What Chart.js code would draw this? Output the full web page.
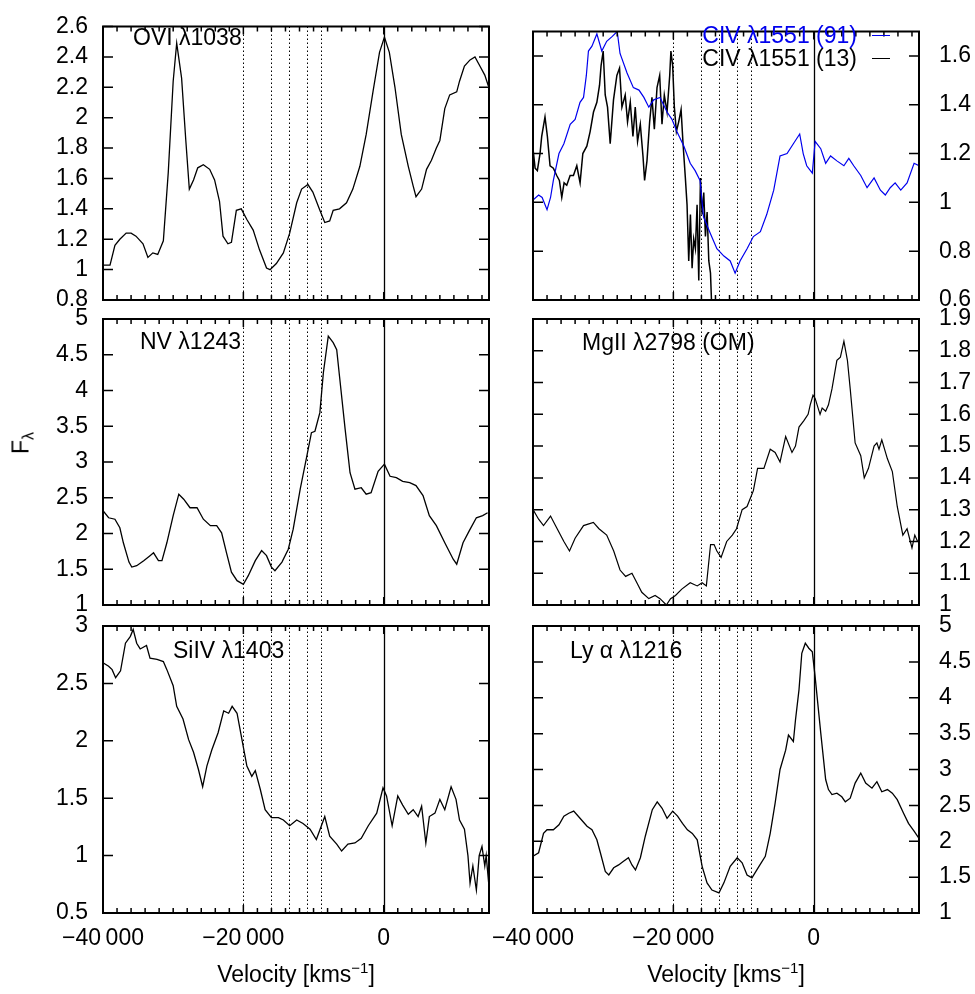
<!DOCTYPE html>
<html>
<head>
<meta charset="utf-8">
<title>Line profiles in velocity space</title>
<script src="https://cdn.jsdelivr.net/npm/chart.js@4/dist/chart.umd.min.js"></script>
<style>
  body { margin: 0; background: #fff; }
  #wrap { position: relative; width: 975px; height: 994px; overflow: hidden;
          font-family: "Liberation Sans", Arial, Helvetica, sans-serif; color: #000; }
  #wrap canvas { position: absolute; left: 0; top: 0; }
  .lbl { position: absolute; font-size: 23px; line-height: 23px; white-space: nowrap; }
  .lbl sub { font-size: 16px; line-height: 0; vertical-align: -5px; }
  .lbl sup { font-size: 15px; line-height: 0; vertical-align: 9px; }
  .key { position: absolute; height: 1.3px; width: 18px; }
</style>
</head>
<body>
<div id="wrap">
  <canvas id="cOVI" width="975" height="994"></canvas>
  <canvas id="cNV" width="975" height="994"></canvas>
  <canvas id="cSiIV" width="975" height="994"></canvas>
  <canvas id="cCIV" width="975" height="994"></canvas>
  <canvas id="cMgII" width="975" height="994"></canvas>
  <canvas id="cLya" width="975" height="994"></canvas>

  <div class="lbl" style="left:133px; top:26px;">OVI λ1038</div>
  <div class="lbl" style="left:140px; top:330px;">NV λ1243</div>
  <div class="lbl" style="left:173px; top:639px;">SiIV λ1403</div>
  <div class="lbl" style="left:582px; top:331px;">MgII λ2798 (OM)</div>
  <div class="lbl" style="left:570px; top:639px;">Ly α λ1216</div>

  <div class="lbl" style="right:118px; top:24px; color:#0000ee;">CIV λ1551 (91)</div>
  <div class="key" style="left:872px; top:35px; background:#0000ee;"></div>
  <div class="lbl" style="right:118px; top:47px;">CIV λ1551 (13)</div>
  <div class="key" style="left:872px; top:58px; background:#000;"></div>

  <div class="lbl" style="left:21px; top:443px; transform:translate(-50%,-50%) rotate(-90deg);">F<sub>λ</sub></div>
  <div class="lbl" style="left:296px; top:963px; transform:translateX(-50%);">Velocity [kms<sup>−1</sup>]</div>
  <div class="lbl" style="left:726px; top:963px; transform:translateX(-50%);">Velocity [kms<sup>−1</sup>]</div>
</div>

<script>
// ---------- velocity axis ----------
const velMin = -40000;
const velMax = 15000;
const velLabels = [-40000, -20000, 0];
const velMinorStep = 2000;
const markerVel = [-20000, -16000, -13500, -11000, -9000];   // dotted
const restVel = 0;                                            // solid

// ---------- y ticks per panel ----------
const oviTicks  = [0.8, 1, 1.2, 1.4, 1.6, 1.8, 2, 2.2, 2.4, 2.6];
const nvTicks   = [1, 1.5, 2, 2.5, 3, 3.5, 4, 4.5, 5];
const siivTicks = [0.5, 1, 1.5, 2, 2.5, 3];
const civTicks  = [0.6, 0.8, 1, 1.2, 1.4, 1.6];
const mgiiTicks = [1, 1.1, 1.2, 1.3, 1.4, 1.5, 1.6, 1.7, 1.8, 1.9];
const lyaTicks  = [1, 1.5, 2, 2.5, 3, 3.5, 4, 4.5, 5];

// ---------- spectra ----------
const oviVel = [
  -40000, -39000, -38300, -37600, -36700, -36000, -35300, -34300, -33600, -32900,
  -32200, -31400, -30700, -30000, -29500, -28800, -28200, -27700, -27100, -26500,
  -25700, -24800, -24100, -23400, -22900, -22200, -21700, -21000, -20300, -19500,
  -18600, -17700, -16700, -16200, -15300, -14300, -13400, -12400, -11700, -10800,
  -10100, -9100, -8400, -7700, -7200, -6300, -5300, -4400, -3400, -2500,
  -1500, -600, 100, 800, 1600, 2500, 3500, 4200, 4600, 5400,
  6100, 6800, 7500, 8000, 8700, 9400, 10400, 10800, 11500, 12300,
  13000, 13700, 14400, 14900
];
const oviFlux = [
  1.03, 1.03, 1.16, 1.20, 1.24, 1.24, 1.22, 1.17, 1.08, 1.11,
  1.10, 1.19, 1.64, 2.24, 2.49, 2.26, 1.85, 1.53, 1.59, 1.67,
  1.69, 1.66, 1.59, 1.45, 1.22, 1.17, 1.18, 1.39, 1.40, 1.33,
  1.26, 1.13, 1.01, 1.00, 1.04, 1.11, 1.24, 1.44, 1.53, 1.56,
  1.51, 1.39, 1.31, 1.32, 1.39, 1.40, 1.44, 1.53, 1.68, 1.89,
  2.18, 2.43, 2.53, 2.43, 2.20, 1.89, 1.68, 1.55, 1.48, 1.53,
  1.66, 1.72, 1.80, 1.85, 2.06, 2.15, 2.17, 2.24, 2.34, 2.38,
  2.40, 2.34, 2.28, 2.21
];

const nvVel = [
  -40000, -39200, -38300, -37600, -37100, -36300, -35900, -35200, -34200, -33300,
  -32800, -32100, -31600, -30900, -30000, -29200, -28500, -27600, -26600, -25700,
  -24700, -23800, -23100, -22400, -21700, -20900, -20000, -19300, -18300, -17400,
  -16700, -16000, -15500, -14500, -13600, -12900, -11900, -11000, -10300, -9800,
  -9100, -8600, -7900, -7200, -6700, -6300, -5500, -4800, -4100, -3200,
  -2500, -1800, -800, 100, 900, 1800, 2700, 3700, 4600, 5600,
  6500, 7500, 8700, 9900, 10400, 11300, 12200, 13200, 14100, 14800
];
const nvFlux = [
  2.32, 2.22, 2.20, 2.08, 1.87, 1.60, 1.53, 1.55, 1.62, 1.69,
  1.73, 1.62, 1.62, 1.87, 2.25, 2.55, 2.48, 2.36, 2.36, 2.20,
  2.11, 2.11, 2.01, 1.73, 1.46, 1.34, 1.29, 1.41, 1.62, 1.76,
  1.69, 1.53, 1.48, 1.60, 1.78, 2.06, 2.62, 3.06, 3.41, 3.43,
  3.69, 4.25, 4.76, 4.67, 4.57, 4.20, 3.46, 2.85, 2.62, 2.64,
  2.55, 2.57, 2.87, 2.97, 2.80, 2.78, 2.73, 2.71, 2.67, 2.53,
  2.25, 2.11, 1.87, 1.64, 1.57, 1.87, 2.04, 2.22, 2.25, 2.29
];

const siivVel = [
  -40000, -39200, -38700, -38200, -37500, -36800, -36100, -35700, -35200, -34700,
  -33800, -33300, -32300, -31400, -30900, -30000, -29500, -28600, -27800, -27100,
  -26400, -25800, -25200, -24500, -23600, -22800, -22100, -21600, -20900, -20200,
  -19500, -18800, -18300, -17600, -16900, -16000, -15000, -14300, -13400, -12400,
  -11500, -10500, -9600, -8400, -7700, -6700, -6000, -5100, -4100, -3200,
  -2200, -1000, -100, 400, 1200, 2000, 2700, 3500, 4200, 4900,
  5400, 6000, 6500, 7300, 8000, 8700, 9600, 10300, 10800, 11500,
  12000, 12300, 12700, 13200, 13600, 14000, 14400, 14600, 15000
];
const siivFlux = [
  2.68, 2.65, 2.62, 2.55, 2.61, 2.85, 2.91, 2.97, 2.85, 2.80,
  2.83, 2.72, 2.71, 2.69, 2.62, 2.48, 2.30, 2.19, 2.01, 1.90,
  1.75, 1.60, 1.78, 1.92, 2.07, 2.26, 2.24, 2.30, 2.24, 2.01,
  1.78, 1.69, 1.74, 1.58, 1.40, 1.33, 1.33, 1.31, 1.26, 1.31,
  1.28, 1.23, 1.14, 1.34, 1.17, 1.10, 1.04, 1.10, 1.11, 1.15,
  1.26, 1.37, 1.59, 1.52, 1.26, 1.52, 1.44, 1.36, 1.40, 1.34,
  1.43, 1.11, 1.34, 1.37, 1.49, 1.40, 1.60, 1.49, 1.31, 1.23,
  1.00, 0.76, 0.91, 0.70, 1.00, 1.08, 0.91, 1.00, 0.73
];

// CIV, epoch 91 (blue)
const civ91Vel = [
  -40000, -39200, -38700, -38000, -37500, -37100, -36300, -35600, -34700, -34000,
  -33300, -32800, -32400, -32100, -31600, -30900, -30200, -29500, -28700, -28000,
  -27600, -26600, -25700, -24900, -24200, -23500, -22800, -21900, -20900, -20200,
  -19500, -18500, -17600, -16900, -16200, -15700, -14700, -13800, -12800, -11900,
  -11200, -10500, -9500, -8600, -7600, -6700, -5700, -4800, -3800, -2900,
  -2000, -1500, -1000, -200, 200, 1000, 1700, 2400, 3300, 4300,
  5000, 5700, 6700, 7600, 8600, 9500, 10200, 10900, 11600, 12400,
  13300, 14300, 15000
];
const civ91Flux = [
  1.01, 1.03, 1.02, 0.97, 1.02, 1.09, 1.20, 1.24, 1.32, 1.34,
  1.41, 1.43, 1.52, 1.62, 1.64, 1.69, 1.62, 1.66, 1.68, 1.70,
  1.61, 1.53, 1.47, 1.46, 1.43, 1.39, 1.42, 1.43, 1.37, 1.34,
  1.29, 1.23, 1.16, 1.13, 1.09, 0.94, 0.87, 0.81, 0.78, 0.76,
  0.71, 0.76, 0.81, 0.86, 0.88, 0.95, 1.05, 1.19, 1.20, 1.24,
  1.28, 1.20, 1.15, 1.12, 1.25, 1.22, 1.16, 1.19, 1.17, 1.15,
  1.18, 1.15, 1.11, 1.06, 1.10, 1.05, 1.03, 1.06, 1.08, 1.05,
  1.08, 1.16, 1.15
];

// CIV, epoch 13 (black)
const civ13Vel = [
  -40000, -39700, -39380, -39000, -38760, -38290, -37950, -37570, -37100, -36620,
  -36240, -35900, -35570, -35190, -34710, -34240, -33760, -33290, -32900, -32330,
  -31860, -31380, -30900, -30520, -30300, -30000, -29710, -29380, -29000, -28530,
  -28050, -27670, -27330, -26860, -26530, -26140, -25760, -25430, -25100, -24710,
  -24330, -24100, -23760, -23380, -23050, -22710, -22330, -21950, -21620, -21290,
  -20900, -20520, -20350, -20100, -19860, -19570, -19240, -18900, -18620, -18290,
  -18050, -17810, -17570, -17330, -17100, -16860, -16620, -16380, -16140, -15900,
  -15670, -15430, -15190, -14950, -14710, -14570, -14450
];
const civ13Flux = [
  1.22, 1.14, 1.13, 1.20, 1.27, 1.35, 1.27, 1.15, 1.14, 1.11,
  1.09, 1.02, 1.08, 1.07, 1.11, 1.11, 1.15, 1.08, 1.20, 1.23,
  1.29, 1.37, 1.41, 1.48, 1.56, 1.62, 1.44, 1.39, 1.24, 1.42,
  1.52, 1.55, 1.39, 1.44, 1.33, 1.41, 1.27, 1.39, 1.25, 1.32,
  1.19, 1.09, 1.17, 1.33, 1.43, 1.30, 1.47, 1.52, 1.32, 1.44,
  1.37, 1.52, 1.62, 1.56, 1.39, 1.29, 1.33, 1.38, 1.24, 1.10,
  0.99, 0.76, 0.95, 0.73, 0.85, 0.81, 0.99, 0.68, 1.10, 0.95,
  1.04, 0.86, 0.96, 0.76, 0.71, 0.60, 0.45
];

const mgiiVel = [
  -40000, -39200, -38500, -37500, -36800, -35600, -34800, -34000, -32800, -31400,
  -30600, -29500, -28500, -27600, -26800, -25900, -25200, -24500, -23500, -22600,
  -21900, -21000, -20400, -19700, -18800, -17600, -16600, -15900, -15300, -14700,
  -14200, -13800, -13200, -12400, -11600, -11000, -10200, -9500, -8600, -8000,
  -7100, -6200, -5500, -4800, -4000, -3100, -2600, -2100, -1400, -800,
  -500, -100, 200, 900, 1200, 1700, 2100, 2600, 3300, 3800,
  4300, 4800, 5200, 5900, 6700, 7200, 7800, 8600, 9000, 9300,
  9700, 10500, 11200, 11900, 12700, 13300, 14000, 14400, 14800
];
const mgiiFlux = [
  1.30, 1.27, 1.25, 1.28, 1.25, 1.20, 1.17, 1.21, 1.25, 1.26,
  1.24, 1.22, 1.17, 1.11, 1.09, 1.10, 1.07, 1.04, 1.02, 1.03,
  1.02, 1.00, 1.02, 1.03, 1.05, 1.07, 1.06, 1.07, 1.06, 1.19,
  1.19, 1.17, 1.15, 1.20, 1.22, 1.24, 1.30, 1.31, 1.36, 1.43,
  1.43, 1.49, 1.48, 1.45, 1.53, 1.48, 1.50, 1.56, 1.58, 1.60,
  1.63, 1.66, 1.65, 1.60, 1.62, 1.61, 1.63, 1.68, 1.77, 1.78,
  1.83, 1.77, 1.68, 1.51, 1.47, 1.40, 1.43, 1.50, 1.51, 1.49,
  1.52, 1.46, 1.42, 1.31, 1.22, 1.24, 1.18, 1.22, 1.20
];

const lyaVel = [
  -40000, -39200, -38500, -38000, -37100, -36300, -35600, -34900, -34200, -33300,
  -32300, -31600, -30900, -30400, -29700, -29200, -28500, -27800, -27100, -26400,
  -25900, -25400, -24700, -24000, -23000, -22300, -21600, -20900, -20100, -19400,
  -18700, -18000, -17300, -16600, -15900, -15200, -14500, -13500, -12800, -11900,
  -10900, -10200, -9500, -8800, -7800, -6900, -6200, -5500, -4800, -4000,
  -3600, -2900, -2600, -2100, -1700, -1200, -700, -200, 200, 1000,
  1700, 2100, 2600, 3300, 4000, 4500, 5200, 5900, 6700, 7400,
  8300, 9000, 9700, 10500, 11200, 11900, 12800, 13500, 14300, 15000
];
const lyaFlux = [
  1.79, 1.84, 2.11, 2.16, 2.16, 2.23, 2.35, 2.39, 2.42, 2.32,
  2.21, 2.16, 2.02, 1.84, 1.58, 1.53, 1.63, 1.67, 1.72, 1.77,
  1.67, 1.60, 1.77, 2.07, 2.44, 2.55, 2.46, 2.32, 2.42, 2.35,
  2.25, 2.16, 2.11, 2.02, 1.65, 1.42, 1.32, 1.28, 1.42, 1.65,
  1.77, 1.70, 1.53, 1.49, 1.65, 1.79, 2.11, 2.53, 3.00, 3.27,
  3.48, 3.39, 3.69, 4.11, 4.62, 4.76, 4.69, 4.64, 4.29, 3.51,
  2.86, 2.72, 2.65, 2.67, 2.62, 2.55, 2.60, 2.81, 2.95, 2.81,
  2.74, 2.83, 2.69, 2.72, 2.67, 2.58, 2.39, 2.25, 2.14, 2.04
];

// ---------- page layout ----------
const PAGE_W = 975, PAGE_H = 994;
const COLS = { left: { l: 103, r: 489 }, right: { l: 533, r: 919 } };
const ROWS = [ { t: 13, b: 300 }, { t: 319, b: 605 }, { t: 626, b: 913 } ];
const FONT = { family: '"Liberation Sans", Arial, Helvetica, sans-serif', size: 23, lineHeight: 1 };

// inward ticks on all four sides, box frame and velocity markers
const framePlugin = {
  id: 'frame',
  beforeDatasetsDraw(chart) {
    const { ctx, chartArea: a, scales: { x } } = chart;
    ctx.save();
    ctx.strokeStyle = '#000';
    ctx.lineWidth = 1;
    ctx.setLineDash([1.5, 2.5]);
    markerVel.forEach(v => {
      const px = Math.round(x.getPixelForValue(v)) + 0.5;
      ctx.beginPath();
      ctx.moveTo(px, a.bottom);
      ctx.lineTo(px, a.top);
      ctx.stroke();
    });
    ctx.setLineDash([]);
    ctx.lineWidth = 1.3;
    const p0 = Math.round(x.getPixelForValue(restVel)) + 0.5;
    ctx.beginPath();
    ctx.moveTo(p0, a.bottom);
    ctx.lineTo(p0, a.top);
    ctx.stroke();
    ctx.restore();
  },
  afterDatasetsDraw(chart) {
    const { ctx, chartArea: a, scales: { x, y } } = chart;
    ctx.save();
    ctx.strokeStyle = '#000';
    ctx.lineWidth = 1.5;
    ctx.beginPath();
    x.ticks.forEach(t => {
      const px = x.getPixelForValue(t.value);
      const len = t.value % 20000 === 0 ? 8 : 5;
      ctx.moveTo(px, a.bottom);
      ctx.lineTo(px, a.bottom - len);
      ctx.moveTo(px, a.top);
      ctx.lineTo(px, a.top + len);
    });
    y.ticks.forEach(t => {
      const py = y.getPixelForValue(t.value);
      ctx.moveTo(a.left, py);
      ctx.lineTo(a.left + 10, py);
      ctx.moveTo(a.right, py);
      ctx.lineTo(a.right - 10, py);
    });
    ctx.stroke();
    ctx.lineWidth = 2;
    ctx.strokeRect(a.left, a.top, a.right - a.left, a.bottom - a.top);
    ctx.restore();
  }
};

function velLabel(v) {
  if (v === 0) return '0';
  const k = Math.abs(v) / 1000;
  return (v < 0 ? '\u2212' : '') + k + '\u2009000';
}

function makePanel(id, col, row, yMin, yMax, yTicks, series) {
  const c = COLS[col];
  const r = ROWS[row];
  const bottomRow = row === 2;
  const xHeight = bottomRow ? 60 : 0;
  const yWidth = col === 'left' ? c.l : PAGE_W - c.r;

  const xTicks = [];
  for (let v = velMin; v < velMax; v += velMinorStep) xTicks.push(v);

  return new Chart(document.getElementById(id), {
    type: 'line',
    data: {
      datasets: series.map(s => ({
        data: s.vel.map((v, i) => ({ x: v, y: s.flux[i] })),
        borderColor: s.color,
        borderWidth: s.width,
        pointRadius: 0,
        tension: 0,
        fill: false
      }))
    },
    options: {
      responsive: false,
      animation: false,
      devicePixelRatio: 1,
      events: [],
      layout: {
        padding: {
          left: col === 'left' ? 0 : c.l,
          right: col === 'left' ? PAGE_W - c.r : 0,
          top: r.t,
          bottom: PAGE_H - r.b - xHeight
        }
      },
      plugins: { legend: { display: false }, tooltip: { enabled: false } },
      scales: {
        x: {
          type: 'linear',
          min: velMin,
          max: velMax,
          grid: { display: false, drawTicks: false },
          border: { display: false },
          afterBuildTicks: s => { s.ticks = xTicks.map(v => ({ value: v })); },
          afterFit: s => { s.height = xHeight; },
          ticks: {
            display: bottomRow,
            autoSkip: false,
            maxRotation: 0,
            padding: 14,
            color: '#000',
            font: FONT,
            callback: v => (velLabels.includes(v) ? velLabel(v) : '')
          }
        },
        y: {
          type: 'linear',
          position: col,
          min: yMin,
          max: yMax,
          grid: { display: false, drawTicks: false },
          border: { display: false },
          afterBuildTicks: s => { s.ticks = yTicks.map(v => ({ value: v })); },
          afterFit: s => { s.width = yWidth; },
          ticks: {
            padding: col === 'left' ? 15 : 20,
            color: '#000',
            font: FONT,
            callback: v => String(+v.toFixed(2))
          }
        }
      }
    },
    plugins: [framePlugin]
  });
}

const black = '#000000';
const blue = '#0000ee';

makePanel('cOVI', 'left', 0, 0.8, 2.6, oviTicks,
  [{ vel: oviVel, flux: oviFlux, color: black, width: 1.3 }]);
makePanel('cNV', 'left', 1, 1, 5, nvTicks,
  [{ vel: nvVel, flux: nvFlux, color: black, width: 1.3 }]);
makePanel('cSiIV', 'left', 2, 0.5, 3, siivTicks,
  [{ vel: siivVel, flux: siivFlux, color: black, width: 1.3 }]);
makePanel('cCIV', 'right', 0, 0.6, 1.7, civTicks, [
  { vel: civ91Vel, flux: civ91Flux, color: blue, width: 1.2 },
  { vel: civ13Vel, flux: civ13Flux, color: black, width: 1.5 }
]);
makePanel('cMgII', 'right', 1, 1, 1.9, mgiiTicks,
  [{ vel: mgiiVel, flux: mgiiFlux, color: black, width: 1.2 }]);
makePanel('cLya', 'right', 2, 1, 5, lyaTicks,
  [{ vel: lyaVel, flux: lyaFlux, color: black, width: 1.3 }]);
</script>
</body>
</html>
